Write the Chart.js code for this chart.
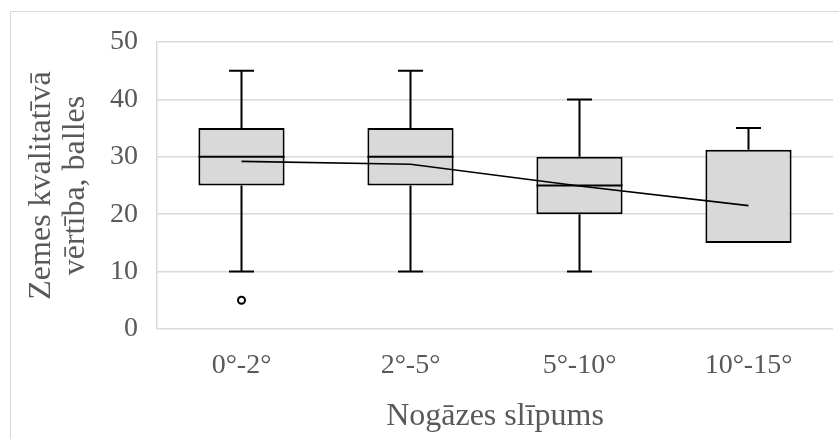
<!DOCTYPE html>
<html>
<head>
<meta charset="utf-8">
<script src="https://cdn.jsdelivr.net/npm/chart.js@4.4.1/dist/chart.umd.min.js"></script>
<style>
  html, body { margin: 0; padding: 0; background: #ffffff; }
  #wrap { width: 839px; height: 439px; position: relative; }
</style>
</head>
<body>
<div id="wrap"><canvas id="c" width="839" height="439"></canvas></div>
<script>
const categories = ['0°-2°', '2°-5°', '5°-10°', '10°-15°'];
const whiskerMin = [10, 10, 10, 15];
const q1 = [25, 25, 20, 15];
const median = [30, 30, 25, null];
const q3 = [35, 35, 30, 31.25];
const whiskerMax = [45, 45, 40, 35];
const means = [29.2, 28.7, 24.9, 21.5];
const outliers = [5, null, null, null];
const yTicks = [0, 10, 20, 30, 40, 50];

const textColor = '#595959';
const gridColor = '#d9d9d9';
const fontFamily = '"Liberation Serif", "Times New Roman", serif';

const boxPlugin = {
  id: 'boxParts',
  beforeDraw(chart) {
    const ctx = chart.ctx;
    ctx.save();
    ctx.strokeStyle = gridColor;
    ctx.lineWidth = 1;
    ctx.strokeRect(10.5, 11.5, 860, 460);
    ctx.restore();
  },
  afterDatasetDraw(chart, args) {
    if (args.index !== 0) return;
    const ctx = chart.ctx;
    const y = chart.scales.y;
    const meta = chart.getDatasetMeta(0);
    ctx.save();
    ctx.strokeStyle = '#000000';
    ctx.lineWidth = 2;
    meta.data.forEach((bar, i) => {
      const x = bar.x;
      const w = bar.width;
      const cap = w * 0.29;
      const yMin = y.getPixelForValue(whiskerMin[i]);
      const yQ1 = y.getPixelForValue(q1[i]);
      const yQ3 = y.getPixelForValue(q3[i]);
      const yMax = y.getPixelForValue(whiskerMax[i]);
      ctx.beginPath();
      if (whiskerMin[i] < q1[i]) {
        ctx.moveTo(x, yQ1); ctx.lineTo(x, yMin);
        ctx.moveTo(x - cap / 2, yMin); ctx.lineTo(x + cap / 2, yMin);
      }
      if (whiskerMax[i] > q3[i]) {
        ctx.moveTo(x, yQ3); ctx.lineTo(x, yMax);
        ctx.moveTo(x - cap / 2, yMax); ctx.lineTo(x + cap / 2, yMax);
      }
      if (median[i] !== null) {
        const yMed = y.getPixelForValue(median[i]);
        ctx.moveTo(x - w / 2, yMed); ctx.lineTo(x + w / 2, yMed);
      }
      ctx.stroke();
    });
    ctx.restore();
  }
};

const boxData = categories.map((c, i) => [q1[i], q3[i]]);

new Chart(document.getElementById('c'), {
  type: 'bar',
  data: {
    labels: categories,
    datasets: [
      {
        type: 'bar',
        data: boxData,
        backgroundColor: '#d9d9d9',
        borderColor: '#000000',
        borderWidth: 2,
        borderSkipped: false,
        categoryPercentage: 1,
        barPercentage: 0.51,
        order: 3
      },
      {
        type: 'line',
        data: means,
        borderColor: '#000000',
        borderWidth: 1.6,
        pointRadius: 0,
        fill: false,
        tension: 0,
        order: 1
      },
      {
        type: 'line',
        data: outliers,
        showLine: false,
        pointRadius: 3.5,
        pointBorderWidth: 2,
        pointBorderColor: '#000000',
        pointBackgroundColor: '#ffffff',
        order: 0
      }
    ]
  },
  options: {
    responsive: false,
    animation: false,
    layout: { padding: { left: 10, right: 2, top: 42, bottom: 0 } },
    plugins: { legend: { display: false }, tooltip: { enabled: false } },
    scales: {
      x: {
        grid: { display: false, drawTicks: false },
        border: { display: false },
        ticks: { color: textColor, font: { family: fontFamily, size: 28 }, padding: 20 },
        title: {
          display: true,
          text: 'Nogāzes slīpums',
          color: textColor,
          font: { family: fontFamily, size: 32, lineHeight: 1 },
          padding: { top: 0, bottom: 6 }
        },
        afterFit(scale) { scale.height = 110; }
      },
      y: {
        min: 0, max: 50,
        afterBuildTicks(scale) { scale.ticks = yTicks.map(v => ({ value: v })); },
        grid: { color: gridColor, lineWidth: 1.5, drawTicks: false },
        border: { display: true, color: gridColor, width: 1.5 },
        ticks: { color: textColor, font: { family: fontFamily, size: 28 }, padding: 19 },
        title: {
          display: true,
          text: ['Zemes kvalitatīvā', 'vērtība, balles'],
          color: textColor,
          font: { family: fontFamily, size: 32, lineHeight: 1.05 },
          padding: { top: 15, bottom: 0 }
        },
        afterFit(scale) { scale.width = 147; }
      }
    }
  },
  plugins: [boxPlugin]
});
</script>
</body>
</html>
